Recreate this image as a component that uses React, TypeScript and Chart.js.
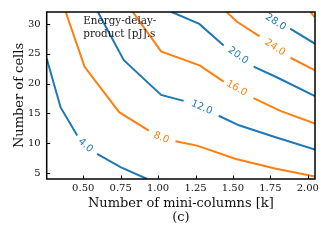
import { useEffect, useRef } from 'react';
import { Chart, registerables } from 'chart.js';

Chart.register(...registerables);

// ---- axes ----
const xMin = 0.256;
const xMax = 2.048;
const yMin = 4;
const yMax = 32;
const xTickValues = [0.5, 0.75, 1.0, 1.25, 1.5, 1.75, 2.0];
const xTickLabels = ['0.50', '0.75', '1.00', '1.25', '1.50', '1.75', '2.00'];
const yTickValues = [5, 10, 15, 20, 25, 30];
const yTickLabels = ['5', '10', '15', '20', '25', '30'];
const xTitle = ['Number of mini-columns [k]', '(c)'];
const yTitle = 'Number of cells';
const noteLines = ['Energy-delay-', 'product [pJ].s'];
const noteX = 0.5;
const noteY = 30;

// ---- contour levels (null = gap where the inline label sits) ----
const levels = [4, 8, 12, 16, 20, 24, 28, 32];

const c4X = [0.256, 0.349, 0.46, null, 0.593, 0.749, 0.927];
const c4Y = [24.2, 16.0, 11.3, null, 8.2, 6.0, 4.0];

const c8X = [0.383, 0.509, 0.74, 0.938, null, 1.116, 1.26, 1.52, 1.78, 2.048];
const c8Y = [32, 22.8, 15.2, 12.1, null, 10.33, 9.6, 7.35, 5.75, 4.4];

const c12X = [0.598, 0.771, 1.02, 1.171, null, 1.405, 1.54, 1.79, 2.048];
const c12Y = [32, 23.93, 18.1, 17.1, null, 14.6, 13.0, 10.95, 8.95];

const c16X = [0.831, 1.02, 1.28, 1.438, null, 1.638, 1.816, 2.048];
const c16Y = [32, 25.4, 23.0, 20.33, null, 17.55, 15.43, 13.3];

const c20X = [1.091, 1.275, 1.438, null, 1.638, 1.789, 2.048];
const c20Y = [32, 30.0, 26.4, null, 22.83, 21.1, 17.9];

const c24X = [1.458, 1.525, 1.678, null, 1.885, 2.048];
const c24Y = [32, 30.4, 27.9, null, 24.33, 22.2];

const c28X = [1.882, 2.048];
const c28Y = [29.2, 26.67];

const c32X = [2.018, 2.048];
const c32Y = [32, 31.1];

const contourX = [c4X, c8X, c12X, c16X, c20X, c24X, c28X, c32X];
const contourY = [c4Y, c8Y, c12Y, c16Y, c20Y, c24Y, c28Y, c32Y];

// inline labels
const labelLevels = [4, 8, 12, 16, 20, 24, 28];
const labelX = [0.515, 1.021, 1.291, 1.525, 1.535, 1.781, 1.785];
const labelY = [9.63, 10.9, 16.0, 19.2, 24.7, 26.05, 30.3];
const labelAngle = [42, 22, 23, 29, 35, 34, 33];

const BLUE = '#1f77b4';
const ORANGE = '#ff7f0e';
const colorForLevel = (lv: number) => (levels.indexOf(lv) % 2 === 0 ? BLUE : ORANGE);

const SERIF = "'DejaVu Serif', serif";
const SANS = "'DejaVu Sans', sans-serif";

const overlay = {
  id: 'overlay',
  afterDatasetsDraw(chart: any) {
    const { ctx, scales } = chart;
    const x = scales.x;
    const y = scales.y;
    ctx.save();
    ctx.font = `10px ${SANS}`;
    ctx.textAlign = 'center';
    ctx.textBaseline = 'middle';
    labelLevels.forEach((lv, i) => {
      const px = x.getPixelForValue(labelX[i]);
      const py = y.getPixelForValue(labelY[i]);
      ctx.save();
      ctx.translate(px, py);
      ctx.rotate((labelAngle[i] * Math.PI) / 180);
      ctx.fillStyle = colorForLevel(lv);
      ctx.fillText(lv.toFixed(1), 0, 0);
      ctx.restore();
    });
    ctx.font = `10.4px ${SERIF}`;
    ctx.textAlign = 'left';
    ctx.textBaseline = 'alphabetic';
    ctx.fillStyle = '#1a1a1a';
    const ax = x.getPixelForValue(noteX);
    const ay = y.getPixelForValue(noteY);
    noteLines.forEach((t, i) => ctx.fillText(t, ax, ay + i * 12.6));
    ctx.restore();
  },
  afterDraw(chart: any) {
    const { ctx, chartArea: a, scales } = chart;
    const x = scales.x;
    const y = scales.y;
    ctx.save();
    ctx.strokeStyle = '#000';
    ctx.lineWidth = 1;
    x.ticks.forEach((t: any) => {
      const px = Math.round(x.getPixelForValue(t.value)) + 0.5;
      ctx.beginPath();
      ctx.moveTo(px, a.bottom);
      ctx.lineTo(px, a.bottom - 3.5);
      ctx.stroke();
    });
    y.ticks.forEach((t: any) => {
      const py = Math.round(y.getPixelForValue(t.value)) + 0.5;
      ctx.beginPath();
      ctx.moveTo(a.left, py);
      ctx.lineTo(a.left + 3.5, py);
      ctx.stroke();
    });
    ctx.lineWidth = 1.5;
    ctx.strokeRect(a.left, a.top, a.right - a.left, a.bottom - a.top);
    ctx.restore();
  },
};

export default function App() {
  const ref = useRef<HTMLCanvasElement | null>(null);
  useEffect(() => {
    if (!ref.current) return;
    const datasets = levels.map((lv, i) => ({
      label: lv.toFixed(1),
      data: contourX[i].map((xv, j) => ({ x: xv, y: contourY[i][j] })),
      borderColor: colorForLevel(lv),
      backgroundColor: colorForLevel(lv),
      borderWidth: 2,
      pointRadius: 0,
      tension: 0,
      spanGaps: false,
      fill: false,
    }));
    const chart = new Chart(ref.current, {
      type: 'line',
      data: { datasets: datasets as any },
      plugins: [overlay],
      options: {
        animation: false,
        responsive: false,
        devicePixelRatio: 1,
        layout: { autoPadding: false, padding: { left: 0, right: 13, top: 11, bottom: 0 } },
        plugins: { legend: { display: false }, tooltip: { enabled: false } },
        scales: {
          x: {
            type: 'linear',
            min: xMin,
            max: xMax,
            afterBuildTicks: (s: any) => {
              s.ticks = xTickValues.map((v) => ({ value: v }));
            },
            afterFit: (s: any) => {
              s.height = 61;
            },
            grid: { display: false, drawTicks: false },
            border: { display: false },
            ticks: {
              autoSkip: false,
              maxRotation: 0,
              padding: 3,
              color: '#111',
              font: { family: SERIF, size: 10 },
              callback: (_v: any, i: number) => xTickLabels[i],
            },
            title: {
              display: true,
              text: xTitle,
              color: '#111',
              font: { family: SERIF, size: 13, lineHeight: 1.05 },
              padding: { top: 0, bottom: 15.5 },
            },
          },
          y: {
            type: 'linear',
            min: yMin,
            max: yMax,
            afterBuildTicks: (s: any) => {
              s.ticks = yTickValues.map((v) => ({ value: v }));
            },
            afterFit: (s: any) => {
              s.width = 46.7;
            },
            grid: { display: false, drawTicks: false },
            border: { display: false },
            ticks: {
              autoSkip: false,
              padding: 6,
              color: '#111',
              font: { family: SERIF, size: 10 },
              callback: (_v: any, i: number) => yTickLabels[i],
            },
            title: {
              display: true,
              text: yTitle,
              color: '#111',
              font: { family: SERIF, size: 13, lineHeight: 1.05 },
              padding: { top: 12.5, bottom: 0 },
            },
          },
        },
      } as any,
    });
    return () => chart.destroy();
  }, []);
  return (
    <div style={{ position: 'fixed', left: 0, top: 0, width: 328, height: 240, background: '#fff' }}>
      <canvas ref={ref} width={328} height={240} style={{ display: 'block' }} />
    </div>
  );
}
